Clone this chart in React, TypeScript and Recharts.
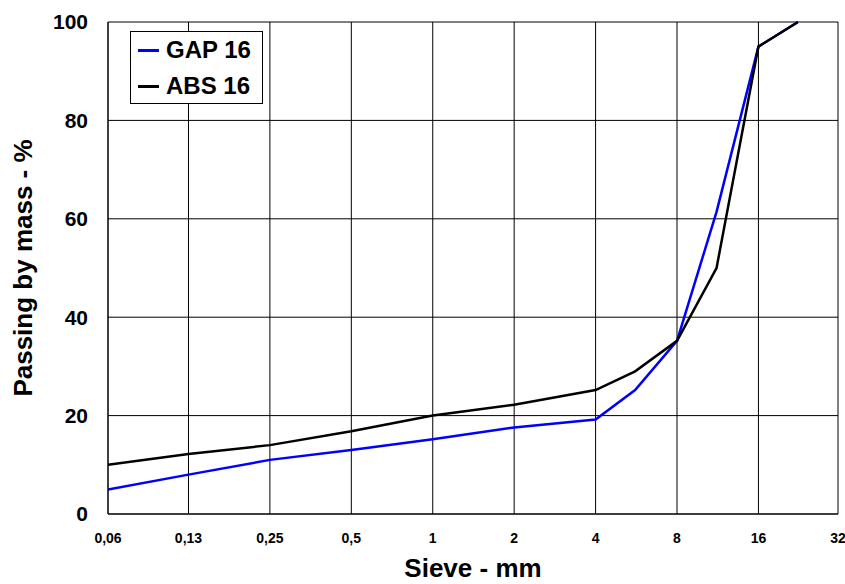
import { LineChart, Line, XAxis, YAxis, CartesianGrid, Legend } from 'recharts';

const sieveSizes = [0.063, 0.125, 0.25, 0.5, 1, 2, 4, 5.6, 8, 11.2, 16, 22.4];
const gap16 = [5, 8, 11, 13, 15.2, 17.6, 19.2, 25.2, 35.2, 61.4, 95, 100];
const abs16 = [10, 12.2, 14, 16.8, 20, 22.2, 25.2, 29, 35.2, 50, 95, 100];

const seriesNames = ['GAP 16', 'ABS 16'];

const xTicks = [0.063, 0.125, 0.25, 0.5, 1, 2, 4, 8, 16, 31.5];
const xTickLabels = ['0,06', '0,13', '0,25', '0,5', '1', '2', '4', '8', '16', '32'];
const yTicks = [0, 20, 40, 60, 80, 100];

const data = sieveSizes.map((size, i) => ({ size, gap: gap16[i], abs: abs16[i] }));

const FONT = '"Liberation Sans", Arial, Helvetica, sans-serif';

function LegendBox(props: any) {
    // keep the legend in series order, not alphabetical
    const items = [...(props.payload || [])].sort(
        (a: any, b: any) => seriesNames.indexOf(a.value) - seriesNames.indexOf(b.value)
    );
    return (
        <div
            style={{
                boxSizing: 'border-box',
                width: 133,
                height: 73,
                border: '1px solid #000',
                background: '#fff',
                paddingLeft: 7,
                fontFamily: FONT,
                fontWeight: 'bold',
                fontSize: 24,
                color: '#000',
            }}
        >
            {items.map((item: any) => (
                <div key={item.value} style={{ display: 'flex', alignItems: 'center', height: 36 }}>
                    <span style={{ display: 'inline-block', width: 21, height: 3, background: item.color, marginRight: 7 }} />
                    <span>{item.value}</span>
                </div>
            ))}
        </div>
    );
}

export default function App() {
    return (
        <div style={{ position: 'absolute', left: 0, top: 0, background: '#fff' }}>
            <LineChart width={845} height={584} data={data} margin={{ top: 22, right: 7, left: 8, bottom: 0 }}>
                <CartesianGrid stroke="#000" strokeWidth={1} horizontalValues={yTicks} verticalValues={xTicks} />
                <XAxis
                    dataKey="size"
                    type="number"
                    scale="log"
                    domain={[0.063, 31.5]}
                    ticks={xTicks}
                    interval={0}
                    height={70}
                    allowDataOverflow
                    axisLine={{ stroke: '#000' }}
                    tickLine={false}
                    tickSize={0}
                    tickMargin={19}
                    tickFormatter={(v: number) => xTickLabels[xTicks.indexOf(v)] ?? String(v)}
                    tick={{ fill: '#000', fontSize: 14, fontWeight: 'bold', fontFamily: FONT }}
                    label={{
                        value: 'Sieve - mm',
                        position: 'insideBottom',
                        offset: 7,
                        style: { fill: '#000', fontSize: 26, fontWeight: 'bold', fontFamily: FONT },
                    }}
                />
                <YAxis
                    type="number"
                    domain={[0, 100]}
                    ticks={yTicks}
                    width={100}
                    axisLine={{ stroke: '#000' }}
                    tickLine={false}
                    tickSize={0}
                    tickMargin={20}
                    tick={{ fill: '#000', fontSize: 21, fontWeight: 'bold', fontFamily: FONT }}
                    label={{
                        value: 'Passing by mass - %',
                        angle: -90,
                        position: 'insideLeft',
                        offset: 15,
                        style: { textAnchor: 'middle', fill: '#000', fontSize: 26, fontWeight: 'bold', fontFamily: FONT },
                    }}
                />
                <Legend
                    content={<LegendBox />}
                    layout="vertical"
                    align="center"
                    verticalAlign="middle"
                    wrapperStyle={{ position: 'absolute', left: 130, top: 31, width: 'auto' }}
                />
                <Line type="linear" dataKey="gap" name="GAP 16" stroke="#0000FF" strokeWidth={2.5} dot={false} isAnimationActive={false} />
                <Line type="linear" dataKey="abs" name="ABS 16" stroke="#000000" strokeWidth={2.5} dot={false} isAnimationActive={false} />
            </LineChart>
        </div>
    );
}
